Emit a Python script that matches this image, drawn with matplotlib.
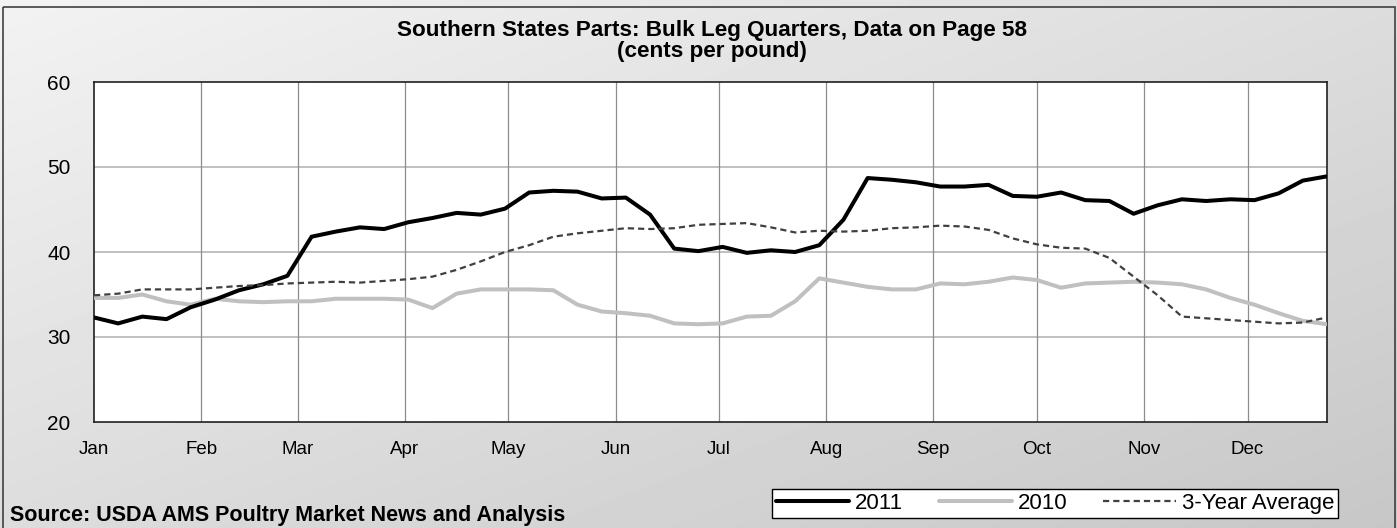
import matplotlib
matplotlib.use('Agg')
import matplotlib.pyplot as plt
import numpy as np
from matplotlib.patches import Rectangle

plt.rcParams['font.family'] = ['Liberation Sans', 'DejaVu Sans']

# ── data: weekly prices (cents per pound), week start as day of year ──
week_day = [7 * k for k in range(52)]
price_2011 = [32.3, 31.6, 32.4, 32.1, 33.5, 34.4, 35.5, 36.2, 37.2, 41.8,
              42.4, 42.9, 42.7, 43.5, 44.0, 44.6, 44.4, 45.1, 47.0, 47.2,
              47.1, 46.3, 46.4, 44.4, 40.4, 40.1, 40.6, 39.9, 40.2, 40.0,
              40.8, 43.8, 48.7, 48.5, 48.2, 47.7, 47.7, 47.9, 46.6, 46.5,
              47.0, 46.1, 46.0, 44.5, 45.5, 46.2, 46.0, 46.2, 46.1, 46.9,
              48.4, 48.9]
price_2010 = [34.6, 34.6, 35.0, 34.2, 33.8, 34.5, 34.2, 34.1, 34.2, 34.2,
              34.5, 34.5, 34.5, 34.4, 33.4, 35.1, 35.6, 35.6, 35.6, 35.5,
              33.8, 33.0, 32.8, 32.5, 31.6, 31.5, 31.6, 32.4, 32.5, 34.2,
              36.9, 36.4, 35.9, 35.6, 35.6, 36.3, 36.2, 36.5, 37.0, 36.7,
              35.8, 36.3, 36.4, 36.5, 36.4, 36.2, 35.6, 34.6, 33.8, 32.8,
              31.9, 31.5]
avg_3yr = [34.9, 35.1, 35.6, 35.6, 35.6, 35.8, 36.0, 36.1, 36.3, 36.4,
           36.5, 36.4, 36.6, 36.8, 37.1, 37.9, 38.9, 40.0, 40.8, 41.8,
           42.2, 42.5, 42.8, 42.7, 42.8, 43.2, 43.3, 43.4, 42.9, 42.3,
           42.5, 42.4, 42.5, 42.8, 42.9, 43.1, 43.0, 42.6, 41.6, 40.9,
           40.5, 40.4, 39.3, 37.1, 34.9, 32.4, 32.2, 32.0, 31.8, 31.6,
           31.7, 32.3]
month_day = [0, 31, 59, 90, 120, 151, 181, 212, 243, 273, 304, 334]
month_labels = ['Jan', 'Feb', 'Mar', 'Apr', 'May', 'Jun',
                'Jul', 'Aug', 'Sep', 'Oct', 'Nov', 'Dec']

W, H = 1397, 528
fig = plt.figure(figsize=(W / 100, H / 100), dpi=100)

# gradient background (light top-left -> darker bottom-right)
bg = fig.add_axes([0, 0, 1, 1], zorder=-10)
gx, gy = np.meshgrid(np.linspace(0, 1, 300), np.linspace(0, 1, 120))
shade = 0.95 - 0.17 * (gx + gy) / 2
bg.imshow(shade, cmap='gray', vmin=0, vmax=1, aspect='auto',
          extent=[0, W, H, 0], interpolation='bilinear')
bg.add_patch(Rectangle((3, 7), W - 5.5, H + 10, fill=False,
                       edgecolor='#404040', lw=1.2))
bg.set_xlim(0, W); bg.set_ylim(H, 0)
bg.axis('off')

ax = fig.add_axes([94 / W, 1 - 422 / H, (1327 - 94) / W, (422 - 82) / H])
ax.set_facecolor('white')
ax.plot(week_day, price_2011, color='black', lw=2.9, solid_joinstyle='round',
        solid_capstyle='round', label='2011', zorder=4)
ax.plot(week_day, price_2010, color='#c0c0c0', lw=2.9, solid_joinstyle='round',
        solid_capstyle='round', label='2010', zorder=3)
ax.plot(week_day, avg_3yr, color='#404040', lw=1.6, linestyle=(0, (2.8, 1.8)),
        label='3-Year Average', zorder=5)

ax.set_xlim(0, 357)
ax.set_ylim(20, 60)
ax.set_xticks(month_day)
ax.set_xticklabels(month_labels, fontsize=13.5)
ax.set_yticks([20, 30, 40, 50, 60])
ax.tick_params(axis='both', length=0)
ax.tick_params(axis='x', pad=14)
ax.tick_params(axis='y', pad=17, labelsize=15)
for y in [30, 40, 50]:
    ax.axhline(y, color='#c0c0c0', lw=1.4, zorder=1)
for d in month_day[1:]:
    ax.axvline(d, color='#8c8c8c', lw=0.9, zorder=1)
for s in ax.spines.values():
    s.set_color('#202020')
    s.set_linewidth(1.2)

fig.text(712 / W, 1 - 41 / H,
         'Southern States Parts: Bulk Leg Quarters, Data on Page 58\n(cents per pound)',
         ha='center', va='center', fontsize=16.2, fontweight='bold', linespacing=1.0)
fig.text(10 / W, 1 - 515 / H, 'Source: USDA AMS Poultry Market News and Analysis',
         ha='left', va='center', fontsize=15.5, fontweight='bold')

leg = fig.legend(loc='center', bbox_to_anchor=(1055 / W, 1 - 503.5 / H), ncol=3,
                 fontsize=16, frameon=True, fancybox=False, handlelength=3.3,
                 handletextpad=0.25, columnspacing=1.6, borderpad=0.2)
leg.get_frame().set_edgecolor('black')
leg.get_frame().set_linewidth(1.0)
leg.get_frame().set_facecolor('white')
leg.get_frame().set_alpha(1)

fig.savefig('out.png', dpi=100)
